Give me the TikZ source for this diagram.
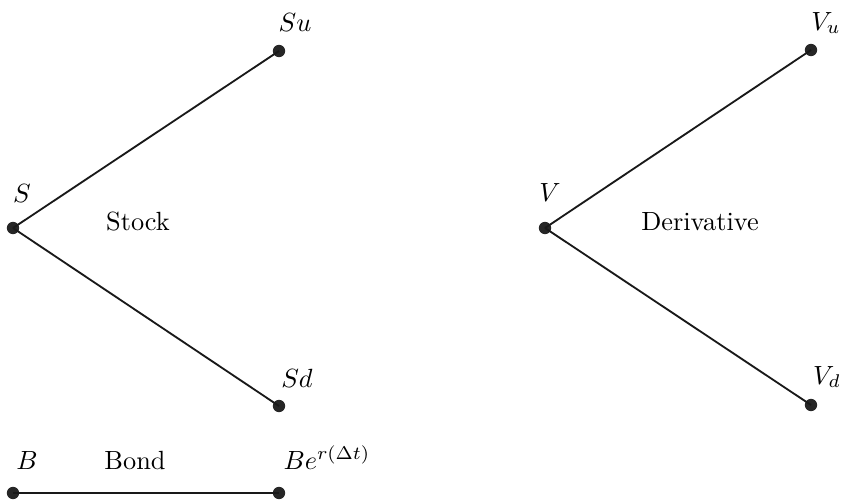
\documentclass[tikz,border=0pt]{standalone}
\begin{document}
\begin{tikzpicture}[x=0.38pt,y=-0.38pt,
  dot/.style={circle,fill=black!85,inner sep=0pt,minimum size=4.7pt},
  edge/.style={line width=0.7pt,black!90},
  lbl/.style={inner sep=0pt}]
\useasboundingbox (0,0) rectangle (841,503);
% stock tree
\node[dot] (S) at (13,228) {};
\node[dot] (Su) at (279,51) {};
\node[dot] (Sd) at (279,406) {};
\draw[edge] (S.center) -- (Su.center);
\draw[edge] (S.center) -- (Sd.center);
\node[lbl] (lS) at (22,194) {$S$};
\node[lbl] (lSu) at (295,23) {$Su$};
\node[lbl] (lSd) at (297,378) {$Sd$};
\node[lbl] (stock) at (138,222) {Stock};
% bond
\node[dot] (B) at (13,493) {};
\node[dot] (Be) at (279,493) {};
\draw[edge] (B.center) -- (Be.center);
\node[lbl,anchor=base] (lB) at (27,469) {$B$};
\node[lbl,anchor=base] (bond) at (135,469) {Bond};
\node[lbl,anchor=base west] (lBe) at (283,469) {$Be^{r(\Delta t)}$};
% derivative tree
\node[dot] (V) at (545,228) {};
\node[dot] (Vu) at (811,50) {};
\node[dot] (Vd) at (811,405) {};
\draw[edge] (V.center) -- (Vu.center);
\draw[edge] (V.center) -- (Vd.center);
\node[lbl] (lV) at (550,193) {$V$};
\node[lbl] (lVu) at (826,23) {$V_u$};
\node[lbl] (lVd) at (827,377) {$V_d$};
\node[lbl] (deriv) at (700,222) {Derivative};
\end{tikzpicture}
\end{document}
